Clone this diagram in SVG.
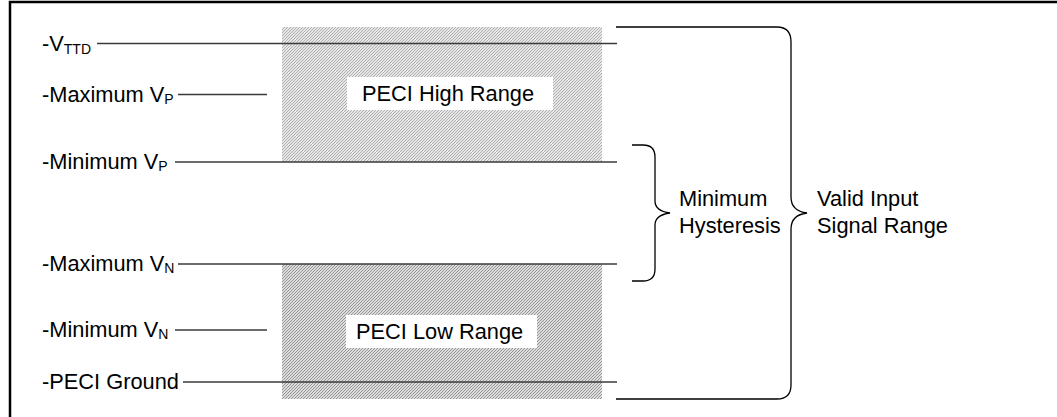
<svg xmlns="http://www.w3.org/2000/svg" width="1057" height="417" viewBox="0 0 1057 417">
  <style>
    text { font-family: "Liberation Sans", Arial, sans-serif; font-size: 21.8px; fill: #000; }
    .sub { font-size: 14px; }
    .lvl { stroke: #3a3a3a; stroke-width: 1.3; fill: none; }
    .brace { stroke: #000; stroke-width: 1.3; fill: none; }
  </style>
  <defs>
    <pattern id="hatchHi" width="3" height="3" patternUnits="userSpaceOnUse">
      <rect width="3" height="3" fill="#e6e6e6"/>
      <path d="M-1,1 l2,-2 M0,3 l3,-3 M2,4 l2,-2" stroke="#aaaaaa" stroke-width="0.9"/>
    </pattern>
    <pattern id="hatchLo" width="3" height="3" patternUnits="userSpaceOnUse">
      <rect width="3" height="3" fill="#dcdcdc"/>
      <path d="M-1,1 l2,-2 M0,3 l3,-3 M2,4 l2,-2" stroke="#969696" stroke-width="1"/>
    </pattern>
  </defs>
  <rect width="1057" height="417" fill="#fff"/>
  <rect x="10" y="2" width="1080" height="440" fill="none" stroke="#000" stroke-width="2.5"/>

  <g id="high-range">
    <rect x="282" y="27" width="320" height="135" fill="url(#hatchHi)"/>
    <rect x="347" y="77" width="206" height="33" fill="#fff"/>
    <text x="362" y="101">PECI High Range</text>
  </g>
  <g id="low-range">
    <rect x="282" y="264" width="320" height="135" fill="url(#hatchLo)"/>
    <rect x="346" y="315" width="191" height="33" fill="#fff"/>
    <text x="356" y="339">PECI Low Range</text>
  </g>

  <g id="vttd">
    <text x="42" y="51">-V<tspan class="sub" dy="3">TTD</tspan></text>
  </g>
  <g id="max-vp">
    <text x="42" y="102">-Maximum V<tspan class="sub" dy="2">P</tspan></text>
  </g>
  <g id="min-vp">
    <text x="42" y="169">-Minimum V<tspan class="sub" dy="2">P</tspan></text>
  </g>
  <g id="max-vn">
    <text x="42" y="271">-Maximum V<tspan class="sub" dy="2">N</tspan></text>
  </g>
  <g id="min-vn">
    <text x="42" y="337">-Minimum V<tspan class="sub" dy="2">N</tspan></text>
  </g>
  <g id="peci-ground">
    <text x="42" y="389">-PECI Ground</text>
  </g>
  <g id="min-hysteresis">
    <text x="679" y="206">Minimum</text>
    <text x="679" y="233">Hysteresis</text>
  </g>
  <g id="valid-range">
    <text x="817" y="206">Valid Input</text>
    <text x="817" y="233">Signal Range</text>
  </g>

  <g id="connectors">
    <line class="lvl" x1="97" y1="43.5" x2="617" y2="43.5"/>
    <line class="lvl" x1="178" y1="94.5" x2="267" y2="94.5"/>
    <line class="lvl" x1="175" y1="162" x2="617" y2="162"/>
    <line class="lvl" x1="178" y1="264" x2="617" y2="264"/>
    <line class="lvl" x1="175" y1="330" x2="267" y2="330"/>
    <line class="lvl" x1="183" y1="382" x2="617" y2="382"/>
    <path class="brace" d="M616,27 H777 Q791,27 791,42 V197 Q791,211 807,213 Q791,215 791,229 V385 Q791,399 777,399 H616"/>
    <path class="brace" d="M632,145 H643 Q655,145 655,157 V201 Q655,211 670,213 Q655,215 655,225 V269 Q655,281 643,281 H632"/>
  </g>
</svg>
